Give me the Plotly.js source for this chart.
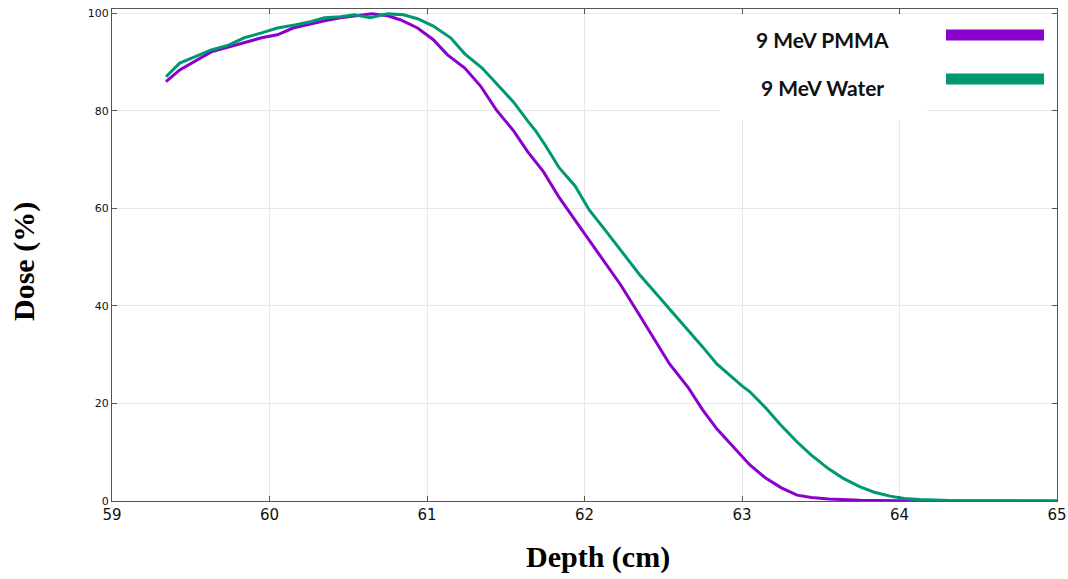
<!DOCTYPE html>
<html>
<head>
<meta charset="utf-8">
<script src="https://cdn.plot.ly/plotly-3.0.1.min.js"></script>
<style>html,body{margin:0;padding:0;background:#fff;}#chart{width:1068px;height:579px;}</style>
</head>
<body>
<div id="chart"></div>
<script>
const pmmaDepth = [59.343,59.43,59.63,59.84,59.95,60.05,60.15,60.26,60.35,60.45,60.54,60.65,60.75,60.83,60.94,61.04,61.13,61.24,61.34,61.44,61.55,61.64,61.74,61.84,61.94,62.03,62.12,62.23,62.34,62.45,62.54,62.66,62.75,62.84,62.96,63.05,63.15,63.25,63.35,63.44,63.55,63.75,64.0,64.3,65.0];
const pmmaDose  = [86.0,88.4,92.1,93.9,95.0,95.6,97.0,97.8,98.5,99.1,99.4,99.9,99.5,98.7,97.0,94.6,91.5,88.8,85.1,80.2,75.9,71.6,67.5,62.2,57.6,53.5,49.2,44.3,38.6,32.8,28.1,23.2,18.7,14.8,10.5,7.4,4.7,2.7,1.2,0.7,0.4,0.15,0.05,0.0,0.0];
const waterDepth = [59.343,59.43,59.54,59.63,59.74,59.84,59.95,60.05,60.16,60.26,60.35,60.45,60.54,60.64,60.75,60.85,60.94,61.04,61.15,61.24,61.35,61.44,61.55,61.64,61.69,61.75,61.84,61.94,62.03,62.14,62.24,62.29,62.35,62.45,62.54,62.65,62.75,62.84,62.94,63.0,63.05,63.15,63.24,63.35,63.44,63.55,63.64,63.75,63.84,63.94,64.03,64.13,64.32,64.6,65.0];
const waterDose  = [87.0,89.8,91.3,92.5,93.5,95.0,96.0,97.0,97.6,98.3,99.1,99.3,99.7,99.1,99.9,99.7,98.9,97.4,95.0,91.7,88.8,85.7,81.8,77.9,75.9,73.0,68.3,64.6,59.7,55.2,51.1,49.0,46.4,42.7,39.4,35.3,31.6,28.1,25.2,23.6,22.4,19.1,15.8,12.1,9.4,6.6,4.7,2.9,1.8,1.0,0.5,0.3,0.1,0.05,0.0];
const xTicks = [59,60,61,62,63,64,65];
const yTicks = [0,20,40,60,80,100];
const seriesNames = ['9 MeV PMMA','9 MeV Water'];
const colors = ['#8a00cc','#009874'];

const traces = [
  {x: pmmaDepth, y: pmmaDose, type:'scatter', mode:'lines', name: seriesNames[0], line:{color:colors[0], width:3}},
  {x: waterDepth, y: waterDose, type:'scatter', mode:'lines', name: seriesNames[1], line:{color:colors[1], width:3}}
];

const L = 112, R = 1057, T = 9, B = 501;
const px = v => (v - L) / (R - L);
const py = v => (B - v) / (B - T);

const layout = {
  width:1068, height:579,
  margin:{l:L, r:1068-R, t:T, b:579-B},
  paper_bgcolor:'#fff', plot_bgcolor:'#fff',
  showlegend:false,
  xaxis:{range:[59,65], tickvals:xTicks, ticktext:xTicks.map(String), ticks:'inside', ticklen:5, tickcolor:'#555',
    showgrid:true, gridcolor:'#e8e8e8', gridwidth:1, zeroline:false, showline:true, linecolor:'#555', linewidth:1, mirror:'ticks',
    tickfont:{family:'DejaVu Sans', size:15, color:'#111'}},
  yaxis:{range:[0,100.9], tickvals:yTicks, ticktext:yTicks.map(String), ticks:'inside', ticklen:5, tickcolor:'#555',
    showgrid:true, gridcolor:'#e8e8e8', gridwidth:1, zeroline:false, showline:true, linecolor:'#555', linewidth:1, mirror:'ticks',
    tickfont:{family:'DejaVu Sans', size:11, color:'#111'}},
  shapes:[
    {type:'rect', xref:'paper', yref:'paper', x0:px(720), x1:px(927), y0:py(120), y1:py(15), fillcolor:'#fff', line:{width:0}, layer:'above'},
    {type:'line', xref:'paper', yref:'paper', x0:px(946), x1:px(1044), y0:py(35), y1:py(35), line:{color:colors[0], width:11}, layer:'above'},
    {type:'line', xref:'paper', yref:'paper', x0:px(946), x1:px(1044), y0:py(79), y1:py(79), line:{color:colors[1], width:11}, layer:'above'}
  ],
  annotations:[
    {text:'<b>'+seriesNames[0]+'</b>', xref:'paper', yref:'paper', x:px(822), y:py(40), showarrow:false, xanchor:'center', yanchor:'middle', font:{family:'Lato', size:21, color:'#111'}},
    {text:'<b>'+seriesNames[1]+'</b>', xref:'paper', yref:'paper', x:px(822), y:py(88), showarrow:false, xanchor:'center', yanchor:'middle', font:{family:'Lato', size:21, color:'#111'}},
    {text:'<b>Depth (cm)</b>', xref:'paper', yref:'paper', x:px(598), y:py(557), showarrow:false, xanchor:'center', yanchor:'middle', font:{family:'Liberation Serif', size:30, color:'#000'}},
    {text:'<b>Dose (%)</b>', xref:'paper', yref:'paper', x:px(24), y:py(262), showarrow:false, xanchor:'center', yanchor:'middle', textangle:-90, font:{family:'Liberation Serif', size:30, color:'#000'}}
  ]
};

Plotly.newPlot('chart', traces, layout, {displayModeBar:false, staticPlot:true});
</script>
</body>
</html>
